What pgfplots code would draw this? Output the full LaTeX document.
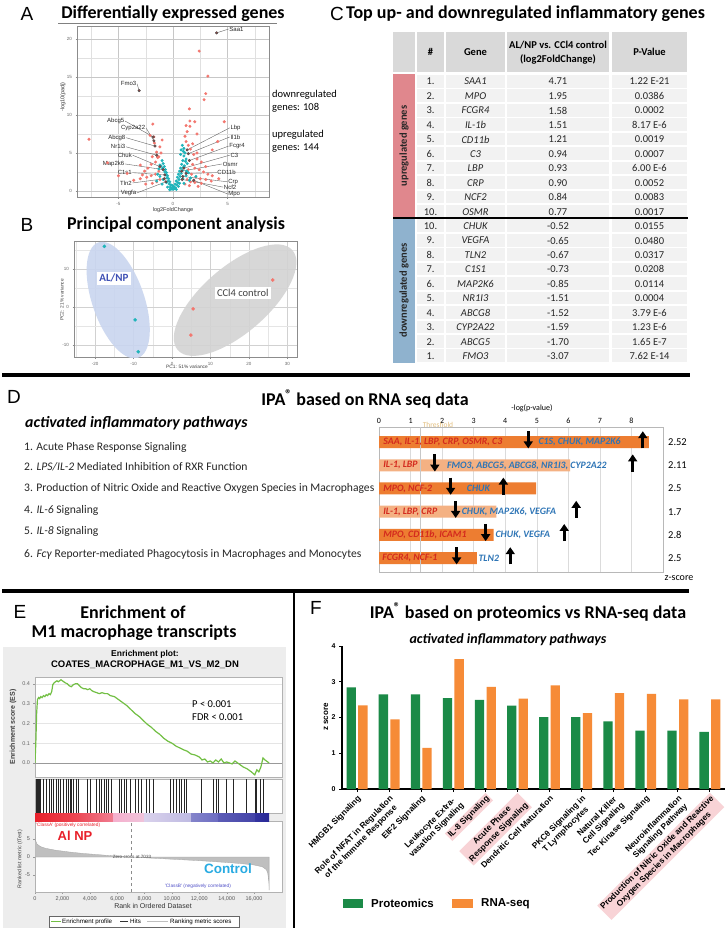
\documentclass[border=0pt]{standalone}
\usepackage{pgfplots}
\pgfplotsset{compat=1.18}
\usepackage{fontspec}
\usepackage{graphicx}
\usetikzlibrary{arrows.meta}
\setmainfont{Carlito}
\newfontfamily\arial{Liberation Sans}
\newcommand\fs[2]{\fontsize{#1bp}{#2bp}\selectfont}
\definecolor{volred}{HTML}{F3766E}
\definecolor{volteal}{HTML}{1FB4BA}
\definecolor{pcablue}{HTML}{C9D5EF}
\definecolor{pcagrey}{HTML}{D3D3D3}
\definecolor{upred}{HTML}{E0878D}
\definecolor{downblue}{HTML}{8FB2CE}
\definecolor{hdr}{HTML}{D9D9D9}
\definecolor{cell}{HTML}{F2F2F2}
\definecolor{barO}{HTML}{ED7D31}
\definecolor{barL}{HTML}{F4B183}
\definecolor{txtR}{HTML}{D42A1E}
\definecolor{txtB}{HTML}{2E75B6}
\definecolor{thr}{HTML}{E2BE7E}
\definecolor{esgreen}{HTML}{72BF44}
\definecolor{fgreen}{HTML}{1B8A47}
\definecolor{forange}{HTML}{F68B37}
\definecolor{hl}{HTML}{F8D3D6}
\definecolor{alblue}{HTML}{3F51B5}
\definecolor{alred}{HTML}{E8202A}
\definecolor{ctrlblue}{HTML}{29ABE2}
\begin{document}
\begin{tikzpicture}
\useasboundingbox (0,0) rectangle (728bp,-933bp);
\fill[white] (0,0) rectangle (728bp,-933bp);
\fill[black!7] (3bp,-647bp) rectangle (286bp,-928bp);

%% ---------------- A: volcano
\begin{axis}[at={(77bp,-26bp)}, anchor=north west, scale only axis, width=192bp, height=171bp,
 xmin=-8.8,xmax=8.8,ymin=-0.8,ymax=21.7,
 xtick={-5,0,5}, ytick={0,5,10,15,20}, minor xtick={-7.5,-2.5,2.5,7.5}, minor ytick={2.5,7.5,12.5,17.5},
 grid=both, major grid style={black!22,line width=0.5bp}, minor grid style={black!12,line width=0.4bp},
 axis line style={black!45, line width=0.5bp}, tick align=outside, major tick length=1.5bp, minor tick length=0pt,
 tick style={black!45}, xtick pos=bottom, ytick pos=left,
 tick label style={font=\arial\fs{4.5}{5}, text=black!60},
 /pgf/number format/assume math mode=true, clip=false]
\addplot[only marks, mark=*, mark size=1.3bp, mark options={fill=volred, draw=volred}] coordinates {
(2.4,18.4)(3.2,15.1)(3.0,12.8)(2.85,12.0)(1.5,10.8)(4.7,9.1)(1.55,9.2)(2.0,9.1)(1.2,8.6)(1.55,8.5)(2.2,7.5)(4.1,6.5)(3.6,5.4)
(-7.7,6.8)(-1.85,8.8)(-1.75,7.1)(-1.0,6.7)(-1.2,5.8)(-1.5,5.1)(-1.9,4.5)(-3.0,3.4)(-6.0,3.7)
(1.2,6.5)(1.4,6.0)(1.6,5.5)(1.1,7.2)(1.3,7.8)(1.9,4.8)(2.2,4.2)(2.6,3.8)(1.5,4.0)(1.8,3.5)(2.0,3.0)(2.4,2.8)(2.8,2.5)(3.2,2.2)(3.6,2.0)
(1.4,2.8)(1.7,2.2)(2.1,1.8)(2.5,1.6)(3.0,1.5)(1.3,1.5)(1.6,1.2)(2.0,1.1)(2.6,1.0)(3.5,1.3)(4.2,1.6)(1.1,0.9)(1.5,0.7)(2.3,0.6)(3.0,3.2)(2.2,5.0)(1.8,6.2)
(-1.1,5.0)(-1.4,4.4)(-1.6,3.8)(-2.0,3.5)(-2.3,3.0)(-2.6,2.6)(-1.3,2.6)(-1.6,2.2)(-2.0,2.0)(-2.4,1.8)(-3.0,1.6)(-3.6,1.4)(-1.2,1.5)(-1.5,1.2)(-1.9,1.0)(-2.5,0.9)(-4.2,2.3)(-2.8,2.1)(-1.7,6.3)(-2.1,7.3)(-1.3,4.5)(-5.0,2.0)};
\addplot[only marks, mark=*, mark size=1.3bp, mark options={fill=volteal, draw=volteal}] coordinates {
(0,0.2)(0.1,0.5)(-0.1,0.4)(0.2,0.9)(-0.2,0.8)(0.3,1.3)(-0.3,1.2)(0.4,1.8)(-0.4,1.6)(0.5,2.2)(-0.5,2.0)(0.6,2.6)(-0.6,2.4)(0.7,3.0)(-0.7,2.8)
(0.8,3.5)(-0.8,3.2)(0.9,4.0)(-0.9,3.6)(1.0,4.6)(-1.0,4.0)(1.1,5.0)(0.75,5.4)(1.0,5.6)(0.85,6.0)(1.2,4.2)(1.3,3.6)(-1.2,3.4)(-1.3,2.9)
(0.15,0.3)(-0.15,0.25)(0.05,0.6)(-0.05,0.7)(0.25,0.4)(-0.25,0.5)(0.35,0.8)(-0.35,0.9)(0.45,1.1)(-0.45,1.3)(0.55,1.5)(-0.55,1.7)(0.65,1.9)(-0.65,2.1)
(0.75,2.3)(-0.75,2.5)(0.85,2.7)(0.95,3.1)(-0.95,3.0)(1.05,3.3)(1.15,3.9)(-1.1,3.3)(1.25,2.6)(-1.4,2.2)(1.4,2.4)(0.6,1.0)(-0.6,1.1)(0.9,1.6)(-0.9,1.5)
(1.2,2.0)(-1.2,1.9)(1.5,1.4)(-1.5,1.3)(1.0,1.0)(-1.0,0.9)(0.5,0.6)(-0.5,0.5)(1.6,1.7)(2.1,1.9)(0.3,0.2)(-0.3,0.15)(0.7,4.8)(0.95,5.2)};
\addplot[only marks, mark=*, mark size=1.3bp, mark options={fill=volred!60!black, draw=black!70}] coordinates {
(4.0,20.8)(-3.1,13.2)(-1.8,7.1)(-1.75,6.6)(-1.65,5.9)(-1.5,4.7)(-1.2,3.2)(-0.9,2.8)(-0.75,2.1)(-0.8,1.6)(-0.65,1.2)
(1.3,5.4)(1.4,4.9)(1.5,4.0)(1.0,3.0)(0.8,2.6)(1.2,2.3)(0.9,1.9)(0.85,1.5)(1.9,1.4)};
\tikzset{vl/.style={black!60, line width=0.4bp}, vn/.style={font=\arial\fs{6}{6.5}, text=black!85, inner sep=0.6bp}}
\draw[vl] (axis cs:5.1,21.3) -- (axis cs:4.0,20.8); \node[vn,anchor=west] at (axis cs:5.1,21.3) {Saa1};
\draw[vl] (axis cs:-3.3,14.1) -- (axis cs:-3.1,13.2); \node[vn,anchor=east] at (axis cs:-3.3,14.1) {Fmo3};
\draw[vl] (axis cs:-4.4,9.2) -- (axis cs:-1.8,7.1); \node[vn,anchor=east] at (axis cs:-4.4,9.2) {Abcg5};
\draw[vl] (axis cs:-2.48,8.3) -- (axis cs:-1.75,6.6); \node[vn,anchor=east] at (axis cs:-2.48,8.3) {Cyp2a22};
\draw[vl] (axis cs:-4.3,7.0) -- (axis cs:-1.65,5.9); \node[vn,anchor=east] at (axis cs:-4.3,7.0) {Abcg8};
\draw[vl] (axis cs:-4.3,5.8) -- (axis cs:-1.5,4.7); \node[vn,anchor=east] at (axis cs:-4.3,5.8) {Nr1i3};
\draw[vl] (axis cs:-3.7,4.7) -- (axis cs:-1.2,3.2); \node[vn,anchor=east] at (axis cs:-3.7,4.7) {Chuk};
\draw[vl] (axis cs:-4.4,3.55) -- (axis cs:-0.9,2.8); \node[vn,anchor=east] at (axis cs:-4.4,3.55) {Map2k6};
\draw[vl] (axis cs:-3.7,2.4) -- (axis cs:-0.75,2.1); \node[vn,anchor=east] at (axis cs:-3.7,2.4) {C1s1};
\draw[vl] (axis cs:-3.7,1.05) -- (axis cs:-0.8,1.6); \node[vn,anchor=east] at (axis cs:-3.7,1.05) {Tln2};
\draw[vl] (axis cs:-3.3,-0.26) -- (axis cs:-0.65,1.2); \node[vn,anchor=east] at (axis cs:-3.3,-0.26) {Vegfa};
\draw[vl] (axis cs:5.2,8.3) -- (axis cs:1.3,5.4); \node[vn,anchor=west] at (axis cs:5.2,8.3) {Lbp};
\draw[vl] (axis cs:5.2,7.1) -- (axis cs:1.4,4.9); \node[vn,anchor=west] at (axis cs:5.2,7.1) {Il1b};
\draw[vl] (axis cs:5.1,5.9) -- (axis cs:1.5,4.0); \node[vn,anchor=west] at (axis cs:5.1,5.9) {Fcgr4};
\draw[vl] (axis cs:5.2,4.7) -- (axis cs:1.0,3.0); \node[vn,anchor=west] at (axis cs:5.2,4.7) {C3};
\draw[vl] (axis cs:4.5,3.55) -- (axis cs:0.8,2.6); \node[vn,anchor=west] at (axis cs:4.5,3.55) {Osmr};
\draw[vl] (axis cs:4.0,2.4) -- (axis cs:1.2,2.3); \node[vn,anchor=west] at (axis cs:4.0,2.4) {CD11b};
\draw[vl] (axis cs:5.0,1.2) -- (axis cs:0.9,1.9); \node[vn,anchor=west] at (axis cs:5.0,1.2) {Crp};
\draw[vl] (axis cs:4.6,0.5) -- (axis cs:0.85,1.5); \node[vn,anchor=west] at (axis cs:4.6,0.5) {Ncf2};
\draw[vl] (axis cs:5.0,-0.4) -- (axis cs:1.9,1.4); \node[vn,anchor=west] at (axis cs:5.0,-0.4) {Mpo};
\end{axis}

%% ---------------- B: PCA
\begin{axis}[at={(74bp,-241bp)}, anchor=north west, scale only axis, width=223bp, height=116bp,
 xmin=-25.5,xmax=32.5,ymin=-13.2,ymax=17.4,
 xtick={-20,-10,0,10,20,30}, ytick={-10,0,10}, minor xtick={-25,-15,-5,5,15,25}, minor ytick={-5,5,15},
 grid=both, major grid style={black!18,line width=0.5bp}, minor grid style={black!10,line width=0.4bp},
 axis line style={black!45, line width=0.5bp}, tick align=outside, major tick length=1.5bp, minor tick length=0pt,
 tick style={black!45}, xtick pos=bottom, ytick pos=left,
 tick label style={font=\arial\fs{4.5}{5}, text=black!60},
 /pgf/number format/assume math mode=true]
\fill[pcablue, opacity=0.9, rotate around={19:(axis cs:-14,1.8)}] (axis cs:-14,1.8) ellipse [x radius=26bp, y radius=61bp];
\fill[pcagrey, opacity=0.9, rotate around={41:(axis cs:16.4,1.8)}] (axis cs:16.4,1.8) ellipse [x radius=76bp, y radius=33bp];
\addplot[only marks, mark=*, mark size=1.6bp, mark options={fill=volteal, draw=volteal}] coordinates {(-17.6,16.0)(-9.6,-3.4)(-8.8,-11.8)};
\addplot[only marks, mark=*, mark size=1.6bp, mark options={fill=volred, draw=volred}] coordinates {(26.2,7.1)(5.5,-0.5)(4.9,-7.4)};
\node[fill=white, inner sep=2.5bp, text=alblue, font=\bfseries\fs{11}{12}] at (axis cs:-15.1,7.6) {AL/NP};
\node[fill=white, inner sep=2.5bp, text=black!75, font=\fs{10.5}{12}] at (axis cs:18.4,3.7) {CCl4 control};
\end{axis}

%% ---------------- D: IPA bars
\begin{axis}[at={(379bp,-427bp)}, anchor=north west, scale only axis, width=284bp, height=145bp,
 xmin=0,xmax=9, ymin=0.35,ymax=6.6, y dir=reverse, xtick={0,...,8}, ytick=\empty,
 xticklabel pos=upper, xmajorgrids, grid style={black!14, line width=0.5bp},
 axis line style={black!28}, major tick length=0pt,
 tick label style={font=\fs{8}{9}}, /pgf/number format/assume math mode=true,
 xbar, bar width=12bp, clip=false]
\addplot[fill=barO, draw=none, bar shift=0pt] coordinates {(8.55,1) (4.98,3) (3.63,5) (3.1,6)};
\addplot[fill=barL, draw=none, bar shift=0pt] coordinates {(6.06,2) (3.72,4)};
\draw[black!22, line width=0.8bp] (axis cs:1.3,0.35) -- (axis cs:1.3,6.6);
\tikzset{rt/.style={anchor=west, inner sep=0pt, text=txtR, font=\bfseries\itshape\fs{9.8}{11}},
 bt/.style={anchor=west, inner sep=0pt, text=txtB, font=\bfseries\itshape\fs{9.8}{11}},
 ar/.style={line width=3bp, -{Triangle[width=9bp,length=7bp]}}}
\node[rt] at (axis cs:0.13,1) {SAA, IL-1, LBP, CRP, OSMR, C3};
\node[bt] at (axis cs:5.05,1) {C1S, CHUK, MAP2K6};
\node[rt] at (axis cs:0.13,2) {IL-1, LBP};
\node[bt] at (axis cs:2.15,2) {FMO3, ABCG5, ABCG8, NR1I3, CYP2A22};
\node[rt] at (axis cs:0.13,3) {MPO, NCF-2};
\node[bt] at (axis cs:2.78,3) {CHUK};
\node[rt] at (axis cs:0.13,4) {IL-1, LBP, CRP};
\node[bt] at (axis cs:2.62,4) {CHUK, MAP2K6, VEGFA};
\node[rt] at (axis cs:0.13,5) {MPO, CD11b, ICAM1};
\node[bt] at (axis cs:3.69,5) {CHUK, VEGFA};
\node[rt] at (axis cs:0.10,6) {FCGR4, NCF-1};
\node[bt] at (axis cs:3.15,6) {TLN2};
\draw[ar] (axis cs:4.73,0.53) -- (axis cs:4.73,1.27);
\draw[ar] (axis cs:8.36,1.27) -- (axis cs:8.36,0.53);
\draw[ar] (axis cs:1.77,1.53) -- (axis cs:1.77,2.27);
\draw[ar] (axis cs:8.04,2.27) -- (axis cs:8.04,1.53);
\draw[ar] (axis cs:2.27,2.53) -- (axis cs:2.27,3.27);
\draw[ar] (axis cs:3.94,3.27) -- (axis cs:3.94,2.53);
\draw[ar] (axis cs:2.43,3.53) -- (axis cs:2.43,4.27);
\draw[ar] (axis cs:6.25,4.27) -- (axis cs:6.25,3.53);
\draw[ar] (axis cs:3.38,4.53) -- (axis cs:3.38,5.27);
\draw[ar] (axis cs:5.87,5.27) -- (axis cs:5.87,4.53);
\draw[ar] (axis cs:2.46,5.53) -- (axis cs:2.46,6.27);
\draw[ar] (axis cs:4.16,6.27) -- (axis cs:4.16,5.53);
\end{axis}

%% ---------------- E: GSEA
\begin{axis}[at={(35bp,-677bp)}, anchor=north west, scale only axis, width=247bp, height=100bp,
 xmin=0, xmax=18040, ymin=-0.071, ymax=0.434, xtick=\empty,
 ytick={0,0.1,0.2,0.3,0.4}, yticklabels={0.0,0.1,0.2,0.3,0.4}, ymajorgrids, grid style={black!10},
 axis background/.style={fill=white}, axis line style={black!30}, ytick pos=left,
 tick label style={font=\arial\fs{5.5}{6}, text=black!60}, major tick length=1.5bp, tick align=outside, tick style={black!40}]
\draw[black!40, line width=0.5bp] (axis cs:0,0) -- (axis cs:18040,0);
\addplot[esgreen, line width=1.2bp, mark=none] coordinates {
(0,0)(60,0.10)(120,0.25)(180,0.32)(260,0.33)(340,0.325)(420,0.335)(520,0.33)(620,0.34)(720,0.335)(820,0.345)(920,0.34)(1020,0.35)(1120,0.345)(1220,0.36)
(1300,0.395)(1400,0.405)(1500,0.41)(1600,0.415)(1700,0.41)(1800,0.415)(1900,0.42)(2000,0.415)(2100,0.41)(2200,0.405)(2350,0.40)(2500,0.39)(2650,0.385)
(2800,0.395)(2950,0.40)(3100,0.40)(3250,0.39)(3400,0.38)(3550,0.375)(3700,0.375)(3850,0.37)(4000,0.375)(4150,0.365)(4300,0.36)(4500,0.355)(4700,0.35)
(4900,0.355)(5100,0.35)(5300,0.35)(5500,0.34)(5800,0.335)(6100,0.32)(6400,0.305)(6700,0.29)(7000,0.27)(7300,0.25)(7600,0.235)(7900,0.215)(8200,0.195)
(8500,0.18)(8800,0.16)(9100,0.145)(9400,0.125)(9700,0.11)(10000,0.10)(10300,0.085)(10600,0.075)(10900,0.065)(11100,0.06)(11400,0.045)(11700,0.04)
(12000,0.03)(12200,0.015)(12400,0.02)(12600,0.005)(12800,0.01)(13000,0.0)(13200,0.015)(13400,0.005)(13600,0.02)(13800,0.0)(14000,0.005)(14200,0.0)
(14400,-0.005)(14600,0.01)(14800,0.0)(15000,-0.01)(15200,-0.02)(15500,-0.03)(15800,-0.045)(16050,-0.06)(16200,-0.035)(16350,-0.045)(16500,-0.02)
(16650,0.025)(16800,0.015)(17000,0.005)(17100,0.0)};
\end{axis}
\begin{axis}[at={(35bp,-779bp)}, anchor=north west, scale only axis, width=247bp, height=34bp,
 xmin=0,xmax=18040,ymin=0,ymax=1, ticks=none, axis background/.style={fill=white}, axis line style={black!30}]
\addplot[ycomb, black!85, line width=0.6bp, mark=none] coordinates {
(73,1)(122,1)(170,1)(243,1)(317,1)(414,1)(609,1)(852,1)(1047,1)(1217,1)(1339,1)(1534,1)(1704,1)(1875,1)(2070,1)(2264,1)(2435,1)(2557,1)(2678,1)(2800,1)
(2995,1)(3165,1)(3823,1)(4018,1)(4505,1)(4699,1)(4870,1)(5040,1)(5235,1)(5357,1)(5600,1)(6160,1)(6331,1)(6501,1)(6696,1)(6988,1)(7305,1)(7548,1)(7792,1)
(8157,1)(8352,1)(8644,1)(9861,1)(10105,1)(10348,1)(10543,1)(10713,1)(10884,1)(11079,1)(12174,1)(13027,1)(13270,1)(13392,1)(14000,1)(14487,1)(15461,1)
(16070,1)(16192,1)(16435,1)(16679,1)};
\end{axis}
\begin{axis}[at={(35bp,-821bp)}, anchor=north west, scale only axis, width=247bp, height=71bp,
 xmin=0,xmax=18040,ymin=-9.7,ymax=10, scaled x ticks=false,
 xtick={0,2000,4000,6000,8000,10000,12000,14000,16000},
 xticklabels={0,{2,000},{4,000},{6,000},{8,000},{10,000},{12,000},{14,000},{16,000}},
 ytick={-5,0,5}, axis background/.style={fill=white}, axis line style={black!30}, xtick pos=bottom, ytick pos=left,
 tick label style={font=\arial\fs{5.5}{6}, text=black!65}, major tick length=1.5bp, tick align=outside, tick style={black!40},
 /pgf/number format/assume math mode=true]
\addplot[fill=black!25, draw=black!35, line width=0.3bp, mark=none] coordinates {
(0,6.5)(50,4.5)(150,3.6)(400,2.9)(800,2.4)(1500,1.9)(2500,1.4)(3500,1.0)(4500,0.7)(5500,0.4)(6500,0.15)(7033,0)(8000,-0.2)(9000,-0.4)(10000,-0.6)
(11000,-0.8)(12000,-1.0)(13000,-1.25)(14000,-1.5)(15000,-1.8)(16000,-2.2)(16600,-2.7)(16900,-3.5)(17000,-4.5)(17080,-7)(17100,-9.2)} \closedcycle;
\draw[black!45, dashed, line width=0.4bp] (axis cs:7033,-9.7) -- (axis cs:7033,10);
\end{axis}

%% ---------------- F: proteomics vs RNA-seq
\begin{axis}[at={(342bp,-646bp)}, anchor=north west, scale only axis, width=383bp, height=143bp,
 xmin=-0.47, xmax=11.47, ymin=0, ymax=4, axis lines*=left, axis line style={-, black, line width=1.2bp},
 ybar, bar width=9.3bp, xtick={0,...,11}, xticklabels={}, ytick={0,1,2,3,4},
 tick align=outside, major tick length=3bp, tick style={black, line width=1bp},
 tick label style={font=\arial\bfseries\fs{7}{8}}, /pgf/number format/assume math mode=true, clip=false]
\addplot[fill=fgreen, draw=none, bar shift=-5.8bp] coordinates {(0,2.84)(1,2.65)(2,2.65)(3,2.54)(4,2.49)(5,2.33)(6,2.01)(7,2.01)(8,1.89)(9,1.63)(10,1.63)(11,1.60)};
\addplot[fill=forange, draw=none, bar shift=5.8bp] coordinates {(0,2.34)(1,1.95)(2,1.15)(3,3.63)(4,2.86)(5,2.53)(6,2.90)(7,2.12)(8,2.68)(9,2.66)(10,2.51)(11,2.51)};
\tikzset{fl/.style={rotate=45, anchor=north east, align=center, font=\arial\bfseries\fs{8.3}{9.5}, inner sep=1.5bp}}
\node[fl] at (axis cs:0,-0.1) {HMGB1 Signaling};
\node[fl] at (axis cs:1,-0.1) {Role of NFAT in Regulation\\of the Immune Response};
\node[fl] at (axis cs:2,-0.1) {EIF2 Signaling};
\node[fl] at (axis cs:3,-0.1) {Leukocyte Extra-\\vasation Signaling};
\node[fl, fill=hl] at (axis cs:4,-0.1) {IL-8 Signaling};
\node[fl, fill=hl] at (axis cs:5,-0.1) {Acute Phase\\Response Signaling};
\node[fl] at (axis cs:6,-0.1) {Dendritic Cell Maturation};
\node[fl] at (axis cs:7,-0.1) {PKCθ Signaling in\\T Lymphocytes};
\node[fl] at (axis cs:8,-0.1) {Natural Killer\\Cell Signaling};
\node[fl] at (axis cs:9,-0.1) {Tec Kinase Signaling};
\node[fl] at (axis cs:10,-0.1) {Neuroinflammation\\Signaling Pathway};
\node[fl, fill=hl] at (axis cs:11,-0.1) {Production of Nitric Oxide and Reactive\\Oxygen Species in Macrophages};
\end{axis}

%% ---------------- plain drawings and texts
\begin{scope}[x=1bp,y=-1bp]
% separators
\draw[black, line width=3.5bp] (2,375) -- (690,375);
\draw[black, line width=3.5bp] (2,591) -- (689,591);
\draw[black, line width=2.5bp] (294,591) -- (294,928);
% A
\node[font=\arial\fs{19}{20}] at (27,14) {A};
\node[font=\bfseries\fs{18}{20}] at (173,14) {Differentially expressed genes};
\draw[black!50, line width=0.5] (58,23) -- (277,23);
\node[font=\arial\fs{5.5}{6}, text=black!80] at (173,210) {log2FoldChange};
\node[font=\arial\fs{5.5}{6}, text=black!80, rotate=90] at (63,97) {-log10(padj)};
\node[anchor=west, font=\fs{10.5}{13}, align=left, inner sep=0] at (272,101.5) {downregulated\\genes: 108};
\node[anchor=west, font=\fs{10.5}{13}, align=left, inner sep=0] at (272,141.5) {upregulated\\genes: 144};
% B
\node[font=\arial\fs{19}{20}] at (27,225) {B};
\node[font=\bfseries\fs{18}{20}] at (176,225) {Principal component analysis};
\node[font=\arial\fs{4.8}{5}, text=black!75] at (187,367) {PC1: 51\% variance};
\node[font=\arial\fs{4.8}{5}, text=black!75, rotate=90] at (62,300) {PC2: 21\% variance};
% C
\node[font=\arial\fs{19}{20}] at (337,14) {C};
\node[anchor=west, font=\bfseries\fs{18}{20}, inner sep=0] at (346,14) {Top up- and downregulated inflammatory genes};
\fill[hdr] (393,32) rectangle (415,72);
\fill[hdr] (417,32) rectangle (444,72);
\fill[hdr] (446,32) rectangle (505,72);
\fill[hdr] (507,32) rectangle (609,72);
\fill[hdr] (612,32) rectangle (687,72);
\node[font=\bfseries\fs{10.5}{12}] at (430.5,52) {\#};
\node[font=\bfseries\fs{10.5}{12}] at (475.5,52) {Gene};
\node[font=\bfseries\fs{10.5}{14}, align=center] at (558,53) {AL/NP vs. CCl4 control\\(log2FoldChange)};
\node[font=\bfseries\fs{10.5}{12}] at (649.5,52) {P-Value};
\fill[upred] (393,74) rectangle (415,218);
\fill[downblue] (393,218) rectangle (415,363);
\node[rotate=90, font=\bfseries\fs{10.5}{12}, text=black!85] at (404,146) {upregulated genes};
\node[rotate=90, font=\bfseries\fs{10.5}{12}, text=black!85] at (404,290.5) {downregulated genes};
\foreach \ri/\rn/\rg/\rf/\rp in {0/1./SAA1/4.71/1.22 E-21, 1/2./MPO/1.95/0.0386, 2/3./FCGR4/1.58/0.0002, 3/4./IL-1b/1.51/8.17 E-6,
 4/5./CD11b/1.21/0.0019, 5/6./C3/0.94/0.0007, 6/7./LBP/0.93/6.00 E-6, 7/8./CRP/0.90/0.0052, 8/9./NCF2/0.84/0.0083, 9/10./OSMR/0.77/0.0017,
 10/10./CHUK/-0.52/0.0155, 11/9./VEGFA/-0.65/0.0480, 12/8./TLN2/-0.67/0.0317, 13/7./C1S1/-0.73/0.0208, 14/6./MAP2K6/-0.85/0.0114,
 15/5./NR1I3/-1.51/0.0004, 16/4./ABCG8/-1.52/3.79 E-6, 17/3./CYP2A22/-1.59/1.23 E-6, 18/2./ABCG5/-1.70/1.65 E-7, 19/1./FMO3/-3.07/7.62 E-14}{
 \pgfmathsetmacro\yy{74+\ri*14.45}
 \fill[cell] (417,\yy+0.9) rectangle (444,\yy+13.6);
 \fill[cell] (446,\yy+0.9) rectangle (505,\yy+13.6);
 \fill[cell] (507,\yy+0.9) rectangle (609,\yy+13.6);
 \fill[cell] (612,\yy+0.9) rectangle (687,\yy+13.6);
 \node[font=\fs{10.5}{12}, text=black!85] at (430.5,\yy+7.6) {\rn};
 \node[font=\itshape\fs{10.5}{12}, text=black!85] at (475.5,\yy+7.6) {\rg};
 \node[font=\fs{10.5}{12}, text=black!85] at (558,\yy+7.6) {\rf};
 \node[font=\fs{10.5}{12}, text=black!85] at (649.5,\yy+7.6) {\rp};
}
\draw[black, line width=1.5bp] (393,218) -- (688,218);
% D
\node[font=\arial\fs{19}{20}] at (14,397) {D};
\node[font=\bfseries\fs{18}{20}] at (365,399) {IPA\textsuperscript{®} based on RNA seq data};
\node[anchor=west, font=\bfseries\itshape\fs{15.8}{16}, inner sep=0] at (25,423) {activated inflammatory pathways};
\node[font=\fs{8}{9}] at (532,408) {-log(p-value)};
\node[font=\fs{7.5}{8}, text=thr] at (438,424.5) {Threshold};
\tikzset{pl/.style={anchor=west, font=\fs{11.6}{12}, inner sep=0, text=black!85}}
\node[pl] at (24,447) {1. Acute Phase Response Signaling};
\node[pl] at (24,467) {2. \textit{LPS/IL-2} Mediated Inhibition of RXR Function};
\node[pl] at (24,488) {3. Production of Nitric Oxide and Reactive Oxygen Species in Macrophages};
\node[pl] at (24,510) {4. \textit{IL-6} Signaling};
\node[pl] at (24,531) {5. \textit{IL-8} Signaling};
\node[pl] at (24,554) {6. \textit{Fcγ} Reporter-mediated Phagocytosis in Macrophages and Monocytes};
\tikzset{zl/.style={anchor=west, font=\fs{10.5}{12}, inner sep=0}}
\node[zl] at (668,442) {2.52};
\node[zl] at (668,465) {2.11};
\node[zl] at (668,488) {2.5};
\node[zl] at (668,512) {1.7};
\node[zl] at (668,535) {2.8};
\node[zl] at (668,558) {2.5};
\node[font=\fs{10}{11}] at (679,578) {z-score};
% E
\node[font=\arial\fs{19}{20}] at (20,612) {E};
\node[font=\bfseries\fs{18}{20}] at (133,612) {Enrichment of};
\node[font=\bfseries\fs{18}{20}] at (134,633) {M1 macrophage transcripts};
\node[font=\arial\bfseries\fs{8.5}{9}] at (145,654) {Enrichment plot:};
\node[font=\arial\bfseries\fs{9.5}{10}] at (145,664.5) {COATES\_MACROPHAGE\_M1\_VS\_M2\_DN};
\node[anchor=west, font=\fs{10.5}{12}, inner sep=0] at (192,704) {P < 0.001};
\node[anchor=west, font=\fs{10.5}{12}, inner sep=0] at (192,717) {FDR < 0.001};
\node[rotate=90, font=\arial\bfseries\fs{7}{8}, text=black!75] at (13,727) {Enrichment score (ES)};
\node[rotate=90, font=\arial\fs{5.3}{6}, text=black!75] at (20,859) {Ranked list metric (tTest)};
% colour bar
\shade[left color=alred, right color={rgb,255:red,236;green,70;blue,82}] (35,813) rectangle (75,821);
\shade[left color={rgb,255:red,236;green,70;blue,82}, right color={rgb,255:red,240;green,125;blue,145}] (75,813) rectangle (113,821);
\shade[left color={rgb,255:red,245;green,175;blue,205}, right color={rgb,255:red,240;green,195;blue,218}] (113,813) rectangle (144,821);
\shade[left color={rgb,255:red,218;green,210;blue,236}, right color={rgb,255:red,190;green,186;blue,226}] (144,813) rectangle (191,821);
\shade[left color={rgb,255:red,132;green,132;blue,202}, right color={rgb,255:red,108;green,108;blue,194}] (191,813) rectangle (218,821);
\shade[left color={rgb,255:red,92;green,92;blue,182}, right color={rgb,255:red,68;green,68;blue,168}] (218,813) rectangle (255,821);
\shade[left color={rgb,255:red,52;green,52;blue,160}, right color={rgb,255:red,40;green,40;blue,150}] (255,813) rectangle (269,821);
\node[anchor=west, font=\arial\fs{4.8}{5}, text=alred, inner sep=0] at (36,825.5) {'ClassA' (positively correlated)};
\node[font=\arial\fs{4.8}{5}, text={rgb,255:red,80;green,80;blue,200}] at (198,886) {'ClassB' (negatively correlated)};
\node[font=\arial\fs{4.6}{5}, text=black!70] at (132,857) {Zero cross at 7033};
\node[font=\arial\bfseries\fs{13}{14}, text=alred] at (75,836) {Al NP};
\node[font=\arial\bfseries\fs{13.5}{14}, text=ctrlblue] at (228,869) {Control};
\node[font=\arial\fs{7}{8}, text=black!80] at (153,906) {Rank in Ordered Dataset};
\draw[black!60, fill=white, line width=0.4] (49,916) rectangle (239,927);
\draw[esgreen, line width=0.8bp] (51,921.5) -- (61,921.5);
\node[anchor=west, font=\arial\fs{6.2}{7}, inner sep=0] at (62,921.5) {Enrichment profile};
\draw[black!80, line width=0.6bp] (120,921.5) -- (128,921.5);
\node[anchor=west, font=\arial\fs{6.2}{7}, inner sep=0] at (130,921.5) {Hits};
\draw[black!25, line width=0.6bp] (147,921.5) -- (168,921.5);
\node[anchor=west, font=\arial\fs{6.2}{7}, inner sep=0] at (170,921.5) {Ranking metric scores};
% F
\node[font=\arial\fs{19}{20}] at (316,608) {F};
\node[font=\bfseries\fs{18}{20}] at (528,612) {IPA\textsuperscript{®} based on proteomics vs RNA-seq data};
\node[font=\bfseries\itshape\fs{14}{15}] at (508,640) {activated inflammatory pathways};
\node[rotate=90, font=\arial\bfseries\fs{8}{9}] at (326,717) {z score};
\fill[fgreen] (343,899) rectangle (363,908);
\node[anchor=west, font=\arial\bfseries\fs{11.5}{12}, inner sep=0] at (371,903.5) {Proteomics};
\fill[forange] (452,899) rectangle (473,908);
\node[anchor=west, font=\arial\bfseries\fs{11.5}{12}, inner sep=0] at (481,903.5) {RNA-seq};
\end{scope}
\end{tikzpicture}
\end{document}
